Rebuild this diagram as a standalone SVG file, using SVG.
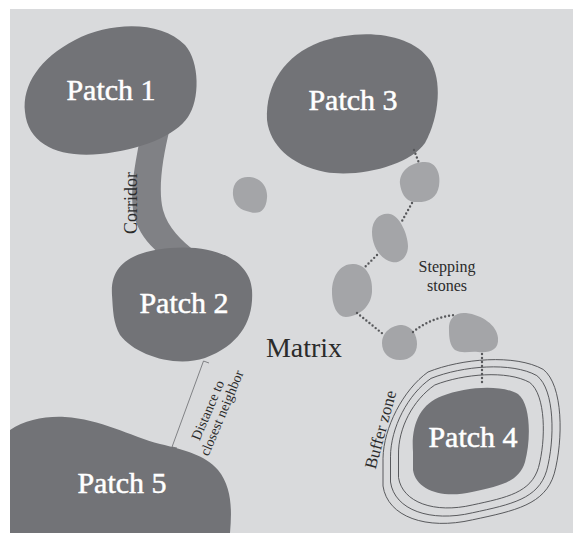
<svg xmlns="http://www.w3.org/2000/svg" width="573" height="533" viewBox="0 0 573 533">
<style>
.patch{fill:#727377}
.stone{fill:#a4a5a8}
.corr{fill:#808185}
.lbl{font-family:"Liberation Serif","Times New Roman",serif;font-size:30px;fill:#ffffff;stroke:#ffffff;stroke-width:0.5;text-anchor:middle}
.txt{font-family:"Liberation Serif","Times New Roman",serif;fill:#2b2b2b;text-anchor:middle}
.dots{fill:none;stroke:#58595c;stroke-width:2.4;stroke-linecap:round;stroke-dasharray:0 4}
.ring{fill:none;stroke:#4a4b4e;stroke-width:0.9}
.thin{fill:none;stroke:#6a6b6e;stroke-width:0.8}
</style>
<rect x="0" y="0" width="573" height="533" fill="#ffffff"/>
<rect x="10" y="9" width="563" height="524" fill="#d9dadc"/>

<g id="corridor">
<path class="corr" d="M140,138 C134,170 128,200 136,222 C142,238 152,248 165,258 L196,252 C181,240 168,228 163,210 C158,190 162,160 170,128 Z"/>
<text class="txt" font-size="18" transform="translate(137,203) rotate(-90)">Corridor</text>
</g>

<g id="patch1">
<path class="patch" d="M25,112 C22,85 40,58 75,40 C110,22 160,20 185,45 C200,62 200,100 188,117 C175,136 140,150 100,154 C60,158 28,145 25,112 Z"/>
<text class="lbl" x="111" y="100">Patch 1</text>
</g>

<g id="patch2">
<path class="patch" d="M112,295 C110,265 130,252 170,248 C215,244 250,260 252,290 C254,320 240,345 205,358 C175,368 135,355 120,335 C113,323 113,310 112,295 Z"/>
<text class="lbl" x="184" y="313">Patch 2</text>
</g>

<g id="patch3">
<path class="patch" d="M267,120 C265,85 285,55 320,42 C360,28 410,32 430,60 C442,80 440,115 425,143 C410,165 360,178 325,172 C290,165 270,145 267,120 Z"/>
<text class="lbl" x="353" y="110">Patch 3</text>
</g>

<g id="buffer-zone">
<path class="ring" d="M398.5,455 C398,428 413,400 434.75,385 C463.5,373.75 507.25,370 529.75,382.5 C546,395 546,440 538.5,467.5 C531,492.5 507.25,497.5 472.25,505 C434.75,513.75 402.25,502.5 398.5,477.5 Z"/>
<path class="ring" d="M390.5,456.8 C390.5,428 408,394 431,378.4 C462.6,365.8 511.6,361.6 536.8,375.6 C555,389.6 555,440 546.6,470.8 C538.2,498.8 511.6,504.4 472.4,512.8 C430.4,522.6 394.5,510 390.5,482 Z"/>
<path class="ring" d="M383,458.3 C383.5,428 403,390 428,372 C461.6,358.5 515.2,353.8 543.2,369.4 C563.4,385 563.4,440 554.2,473.8 C545,504.5 515.2,510.8 472.6,519.8 C426.2,530.5 387.5,516.8 383,486 Z"/>
<text class="txt" font-size="17" transform="translate(386,431) rotate(-75)">Buffer zone</text>
</g>

<g id="patch4">
<path class="patch" d="M413,452 C411,425 420,404 442,396 C465,387 500,384 518,394 C531,404 531,440 525,462 C519,482 500,486 472,492 C442,499 416,490 413,470 Z"/>
<text class="lbl" x="473" y="447">Patch 4</text>
</g>

<g id="patch5">
<path class="patch" d="M10,430 C25,420 45,416 65,417 C100,419 130,436 160,444 C185,450 205,455 218,470 C232,487 232,510 230,533 L10,533 Z"/>
<text class="lbl" x="122" y="493">Patch 5</text>
</g>

<g id="stone-lone"><path class="stone" d="M233,195 C232,182 240,176 250,177 C262,178 268,188 267,198 C266,210 260,215 250,212 C240,210 234,205 233,195 Z"/></g>
<g id="stone-a"><path class="stone" d="M400,184 C399,172 410,162 425,162 C437,162 441,175 439,186 C437,198 428,203 414,202 C405,201 401,192 400,184 Z"/></g>
<g id="stone-b"><path class="stone" d="M372,232 C372,218 382,212 390,214 C400,216 408,235 408,246 C408,257 400,264 392,262 C382,260 372,248 372,232 Z"/></g>
<g id="stone-c"><path class="stone" d="M332,292 C332,274 342,263 354,264 C367,265 373,278 372,292 C371,306 360,316 346,317 C337,317 332,305 332,292 Z"/></g>
<g id="stone-d"><path class="stone" d="M382,343 C382,332 392,325 402,325 C412,326 417,335 417,344 C417,354 410,360 400,360 C389,360 382,353 382,343 Z"/></g>
<g id="stone-e"><path class="stone" d="M449,330 C448,318 456,312 466,313 C482,315 497,325 498,338 C499,350 490,353 478,352 C470,351 462,354 455,350 C450,346 449,338 449,330 Z"/></g>

<g id="connectors">
<path class="dots" d="M414,150 L419,163"/>
<path class="dots" d="M412,203 L402,221"/>
<path class="dots" d="M377,255 L364,268"/>
<path class="dots" d="M357,313 L383,334"/>
<path class="dots" d="M413,332 Q430,318 454,315"/>
<path class="dots" d="M482,354 L482,386"/>
<path class="thin" d="M203.5,361 L172,447"/>
<path class="thin" d="M203.5,361 L209,363"/>
<path class="thin" d="M172,447 L177,448"/>
</g>

<g id="distance-label" transform="translate(212,412) rotate(-67)">
<text class="txt" font-size="14" x="0" y="0">Distance to</text>
<text class="txt" font-size="14" x="3" y="14">closest neighbor</text>
</g>

<g id="labels">
<text class="txt" font-size="28" x="304" y="357">Matrix</text>
<text class="txt" font-size="16" x="447" y="272">Stepping</text>
<text class="txt" font-size="16" x="447" y="291">stones</text>
</g>
</svg>
